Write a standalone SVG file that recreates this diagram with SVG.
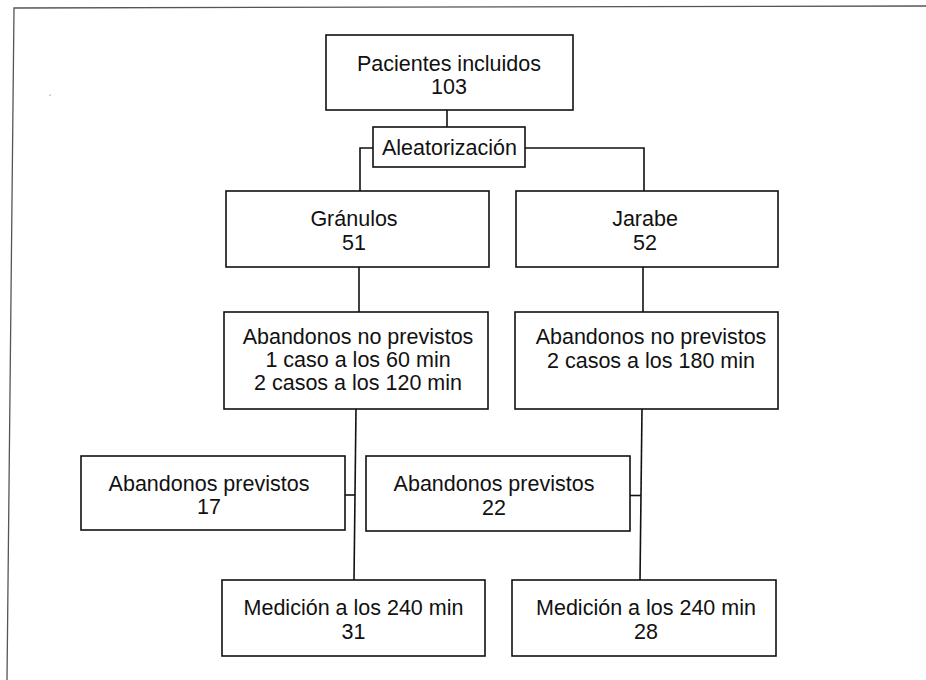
<svg xmlns="http://www.w3.org/2000/svg" width="926" height="680" viewBox="0 0 926 680">
<style>
.box{fill:#fff;stroke:#111;stroke-width:1.6}
.t{font-family:"Liberation Sans",Arial,sans-serif;font-size:21.5px;fill:#111;text-anchor:middle}
.c{fill:none;stroke:#111;stroke-width:1.6}
.frame{fill:none;stroke:#555;stroke-width:1.3}
</style>
<rect width="926" height="680" fill="#fff"/>
<g id="frame">
<path class="frame" d="M926,6 L14,8 L7,680"/>
<path d="M49.5,95.5 l1.2,-0.8" stroke="#777" stroke-width="1"/>
</g>
<g id="connectors">
<path class="c" d="M447,110 V127"/>
<path class="c" d="M373,148 H360 V191"/>
<path class="c" d="M525,148 H644 V191"/>
<path class="c" d="M359,267 V312"/>
<path class="c" d="M643,267 V312"/>
<path class="c" d="M356,409 L354,580"/>
<path class="c" d="M642,409 L640,580"/>
<path class="c" d="M345,495 H355"/>
<path class="c" d="M630,495.5 H641"/>
</g>
<g id="n_pacientes">
<rect class="box" x="326" y="35" width="247" height="75"/>
<text class="t" x="449" y="71">Pacientes incluidos</text>
<text class="t" x="449" y="94">103</text>
</g>
<g id="n_aleatorizacion">
<rect class="box" x="373" y="127" width="152" height="40"/>
<text class="t" x="449.5" y="155">Aleatorización</text>
</g>
<g id="n_granulos">
<rect class="box" x="226" y="191" width="263" height="76"/>
<text class="t" x="354" y="226">Gránulos</text>
<text class="t" x="354" y="250">51</text>
</g>
<g id="n_jarabe">
<rect class="box" x="516" y="191" width="262" height="76"/>
<text class="t" x="645" y="226">Jarabe</text>
<text class="t" x="645" y="250">52</text>
</g>
<g id="n_abandonos_np_g">
<rect class="box" x="224" y="312" width="264" height="97"/>
<text class="t" x="358" y="344">Abandonos no previstos</text>
<text class="t" x="358" y="367">1 caso a los 60 min</text>
<text class="t" x="358" y="390">2 casos a los 120 min</text>
</g>
<g id="n_abandonos_np_j">
<rect class="box" x="515" y="312" width="263" height="97"/>
<text class="t" x="651" y="344">Abandonos no previstos</text>
<text class="t" x="651" y="368">2 casos a los 180 min</text>
</g>
<g id="n_abandonos_p_17">
<rect class="box" x="81" y="456" width="264" height="74"/>
<text class="t" x="209" y="491">Abandonos previstos</text>
<text class="t" x="209" y="514">17</text>
</g>
<g id="n_abandonos_p_22">
<rect class="box" x="366" y="456" width="264" height="75"/>
<text class="t" x="494" y="491">Abandonos previstos</text>
<text class="t" x="494" y="515">22</text>
</g>
<g id="n_medicion_g">
<rect class="box" x="222" y="580" width="263" height="76"/>
<text class="t" x="353.5" y="615">Medición a los 240 min</text>
<text class="t" x="353.5" y="639">31</text>
</g>
<g id="n_medicion_j">
<rect class="box" x="512" y="580" width="264" height="76"/>
<text class="t" x="646" y="615">Medición a los 240 min</text>
<text class="t" x="646" y="639">28</text>
</g>
</svg>
